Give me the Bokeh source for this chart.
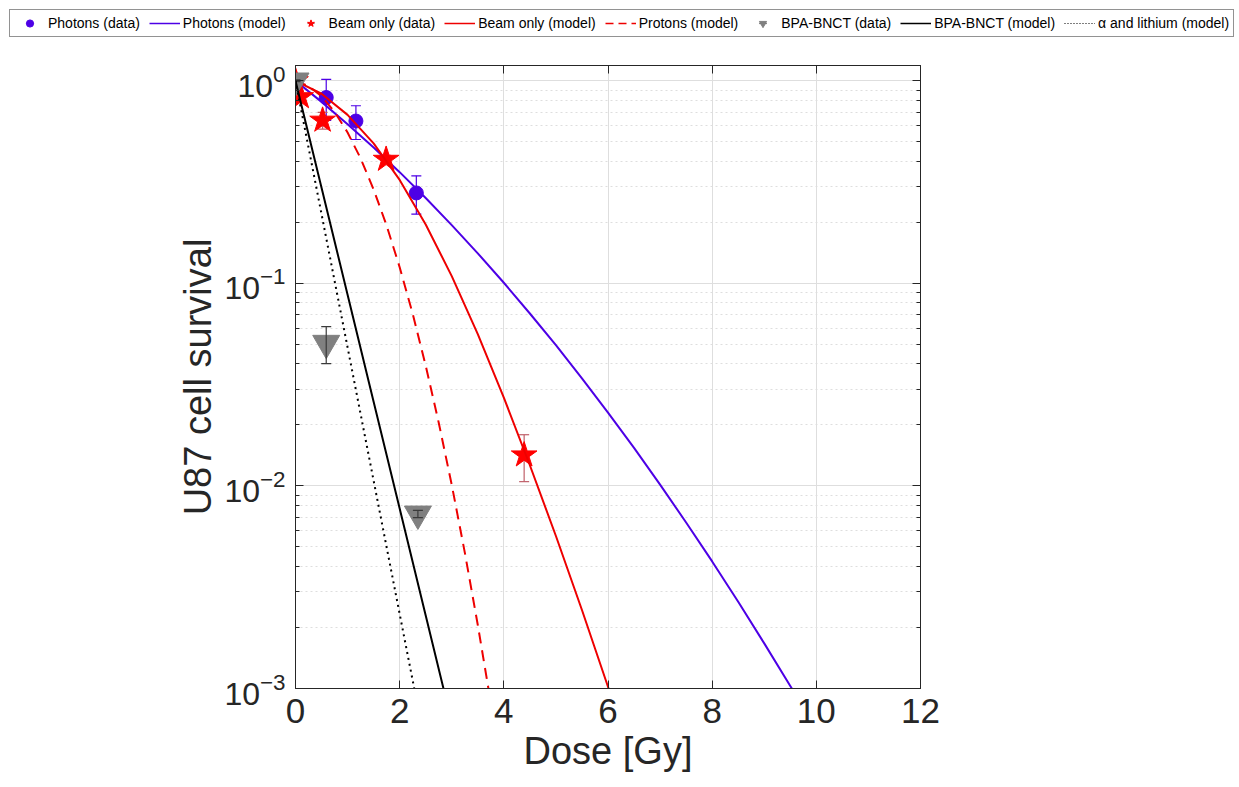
from bokeh.plotting import figure
from bokeh.models import (Range1d, FixedTicker, LogTickFormatter, LinearAxis, LogAxis,
                          Legend, LegendItem, CustomJSTickFormatter)
from bokeh.embed import file_html
from bokeh.resources import INLINE

# ---------------- data ----------------
photon_dose = [0.0, 0.59, 1.16, 2.32]
photon_surv = [1.0, 0.827, 0.633, 0.2795]
photon_err = [0.0, 0.19, 0.12, 0.06]

beam_dose = [0.0, 0.10, 0.52, 1.74, 4.39]
beam_surv = [1.0, 0.833, 0.638, 0.409, 0.0142]
beam_err = [0.0, 0.0, 0.06, 0.02, 0.0037]

bnct_dose = [0.0, 0.59, 2.35]
bnct_surv = [1.0, 0.0507, 0.00728]
bnct_err = [0.01, 0.0105, 0.0003]

photon_model_dose = [0.0, 0.5, 1.0, 1.5, 2.0, 2.5, 3.0, 3.5, 4.0, 4.5, 5.0, 5.5, 6.0,
                     6.5, 7.0, 7.5, 8.0, 8.5, 9.0, 9.5, 10.0]
photon_model_surv = [1.0, 0.787, 0.611, 0.468, 0.354, 0.2637, 0.1939, 0.1407, 0.1007,
                     0.0710, 0.0495, 0.0340, 0.0230, 0.0154, 0.01015, 0.00660, 0.00424,
                     0.00268, 0.00167, 0.00103, 0.00063]

beam_model_dose = [0.0, 0.5, 1.0, 1.5, 2.0, 2.5, 3.0, 3.5, 4.0, 4.5, 5.0, 5.5, 6.0, 6.5]
beam_model_surv = [1.0, 0.863, 0.679, 0.491, 0.324, 0.1954, 0.1086, 0.0562, 0.0273,
                   0.01265, 0.00566, 0.00244, 0.00102, 0.00041]

proton_model_dose = [0.0, 0.25, 0.5, 0.75, 1.0, 1.25, 1.5, 1.75, 2.0, 2.25, 2.5, 2.75,
                     3.0, 3.25, 3.5, 3.75]
proton_model_surv = [1.0, 0.9434, 0.8388, 0.7034, 0.5559, 0.4142, 0.2908, 0.1926, 0.1202,
                     0.07074, 0.03925, 0.02052, 0.01012, 0.004701, 0.002059, 0.000850]

bnct_model_dose = [0.0, 0.5, 1.0, 1.5, 2.0, 2.5, 3.0]
bnct_model_surv = [1.0, 0.2965, 0.0879, 0.02606, 0.00773, 0.00229, 0.00068]

alpha_model_dose = [0.0, 0.5, 1.0, 1.5, 2.0, 2.28]
alpha_model_surv = [1.0, 0.2198, 0.0483, 0.01062, 0.002333, 0.001]

x_ticks = [0, 2, 4, 6, 8, 10, 12]
y_ticks = [1e-3, 1e-2, 1e-1, 1.0]
y_minor_ticks = [m * d for d in (1e-3, 1e-2, 1e-1) for m in range(2, 10)]

legend_labels = ["Photons (data)", "Photons (model)", "Beam only (data)", "Beam only (model)",
                 "Protons (model)", "BPA-BNCT (data)", "BPA-BNCT (model)",
                 "\u03b1 and lithium (model)"]

# ---------------- styles ----------------
FONT = "Liberation Sans"
DARK = "#262626"
BLUE = "#4D00E6"
RED = "#FF0000"
RED_LINE = "#EE0000"
RED_ERR = "#C0606A"
GRAY = "#808080"
GRAY_ERR = "#3A3A3A"
GRID = "#dedede"

W = 1236
LH = 40                 # height of the legend strip
H = 785 - LH
FL, FR, FT, FB = 295, 920, 65 - LH, 688 - LH  # frame edges inside the main figure

p = figure(width=W, height=H, x_range=Range1d(0, 12), y_range=Range1d(1e-3, 1.19),
           y_axis_type="log", output_backend="svg", toolbar_location=None,
           min_border_left=FL, min_border_right=W - FR, min_border_top=FT,
           min_border_bottom=H - FB, background_fill_color="white")
p.outline_line_color = DARK
p.outline_line_width = 1

xt = FixedTicker(ticks=x_ticks)
yt = FixedTicker(ticks=y_ticks, minor_ticks=y_minor_ticks)

for ax in p.xaxis:
    ax.ticker = xt
for ax in p.yaxis:
    ax.ticker = yt
    ax.formatter = LogTickFormatter()

for ax in p.axis:
    ax.axis_line_color = DARK
    ax.major_tick_in = 8
    ax.major_tick_out = 0
    ax.minor_tick_in = 4
    ax.minor_tick_out = 0
    ax.major_tick_line_color = DARK
    ax.minor_tick_line_color = DARK
    ax.major_label_text_font = FONT
    ax.major_label_text_font_size = "32px"
    ax.major_label_text_color = DARK
    ax.axis_label_text_font = FONT
    ax.axis_label_text_font_size = "38px"
    ax.axis_label_text_font_style = "normal"
    ax.axis_label_text_color = DARK

p.xaxis.axis_label = "Dose [Gy]"
p.yaxis.axis_label = "U87 cell survival"
p.xaxis.major_label_text_font_size = "35px"
p.xaxis.major_label_standoff = 10
p.xaxis.axis_label_standoff = 4
p.yaxis.major_label_standoff = 10
p.yaxis.axis_label_standoff = 2

blank = CustomJSTickFormatter(code="return ''")
top_ax = LinearAxis(ticker=xt, formatter=blank, major_tick_in=8,
                    major_tick_out=0, axis_line_color=DARK, major_tick_line_color=DARK,
                    major_label_standoff=0)
right_ax = LogAxis(ticker=yt, formatter=blank, major_tick_in=8,
                   major_tick_out=0, minor_tick_in=4, minor_tick_out=0,
                   axis_line_color=DARK, major_tick_line_color=DARK,
                   minor_tick_line_color=DARK, major_label_standoff=0)
p.add_layout(top_ax, "above")
p.add_layout(right_ax, "right")

p.xgrid.grid_line_color = GRID
p.ygrid.grid_line_color = GRID
p.ygrid.minor_grid_line_color = GRID
p.ygrid.minor_grid_line_dash = "2 3"


def errbars(dose, surv, err, color, cap=10):
    lo = [s - e for s, e in zip(surv, err)]
    hi = [s + e for s, e in zip(surv, err)]
    p.segment(x0=dose, y0=lo, x1=dose, y1=hi, line_color=color, line_width=1.2)
    p.scatter(dose, lo, marker="dash", size=cap, line_color=color, line_width=1.2)
    p.scatter(dose, hi, marker="dash", size=cap, line_color=color, line_width=1.2)


# photons
errbars(photon_dose, photon_surv, photon_err, BLUE)
p.scatter(photon_dose, photon_surv, marker="circle", size=14, fill_color=BLUE,
          line_color=BLUE)
p.line(photon_model_dose, photon_model_surv, line_color=BLUE, line_width=2)

# beam only
errbars(beam_dose, beam_surv, beam_err, RED_ERR)
p.scatter(beam_dose, beam_surv, marker="star", size=27, fill_color=RED, line_color=RED)
p.line(beam_model_dose, beam_model_surv, line_color=RED_LINE, line_width=2)
p.line(proton_model_dose, proton_model_surv, line_color=RED_LINE, line_width=2,
       line_dash="11 7")

# BPA-BNCT
p.scatter(bnct_dose, bnct_surv, marker="inverted_triangle", size=27, fill_color=GRAY,
          line_color=GRAY)
errbars(bnct_dose, bnct_surv, bnct_err, GRAY_ERR)
p.line(bnct_model_dose, bnct_model_surv, line_color="black", line_width=2)
p.line(alpha_model_dose, alpha_model_surv, line_color="black", line_width=2,
       line_dash="2 4")

# ---------------- legend strip (separate root, full width) ----------------
lf = figure(width=W, height=LH, x_range=Range1d(0, 1), y_range=Range1d(0, 1),
            output_backend="svg", toolbar_location=None, min_border=0,
            x_axis_location=None, y_axis_location=None)
lf.grid.visible = False
lf.outline_line_color = None

lx, ly = [-50.0], [-50.0]   # legend-only renderers, outside the visible range
vbar = dict(marker="dash", angle=1.5708, line_width=1.2)
b1 = lf.scatter(lx, ly, line_color=BLUE, **vbar)
g1 = lf.scatter(lx, ly, marker="circle", fill_color=BLUE, line_color=BLUE)
g2 = lf.line(lx, ly, line_color=BLUE, line_width=1.5)
b3 = lf.scatter(lx, ly, line_color=RED_ERR, **vbar)
g3 = lf.scatter(lx, ly, marker="star", fill_color=RED, line_color=RED)
g4 = lf.line(lx, ly, line_color=RED_LINE, line_width=1.5)
g5 = lf.line(lx, ly, line_color=RED_LINE, line_width=1.5, line_dash="8 5")
b6 = lf.scatter(lx, ly, line_color=GRAY_ERR, **vbar)
g6 = lf.scatter(lx, ly, marker="inverted_triangle", fill_color=GRAY, line_color=GRAY)
g7 = lf.line(lx, ly, line_color="black", line_width=1.5)
g8 = lf.line(lx, ly, line_color="black", line_width=1.2, line_dash="1 2")
glyph_sets = [[b1, g1], [g2], [b3, g3], [g4], [g5], [b6, g6], [g7], [g8]]

leg = Legend(items=[LegendItem(label=l, renderers=g) for l, g in zip(legend_labels, glyph_sets)],
             orientation="horizontal", location="top_left", margin=9, padding=4,
             spacing=9, glyph_width=31, glyph_height=18, label_standoff=3,
             label_text_font=FONT, label_text_font_size="14px", label_text_color="black",
             border_line_color=DARK, border_line_width=1, background_fill_color="white",
             background_fill_alpha=1.0)
lf.add_layout(leg, "center")

open("out.html", "w").write(file_html([lf, p], INLINE))
